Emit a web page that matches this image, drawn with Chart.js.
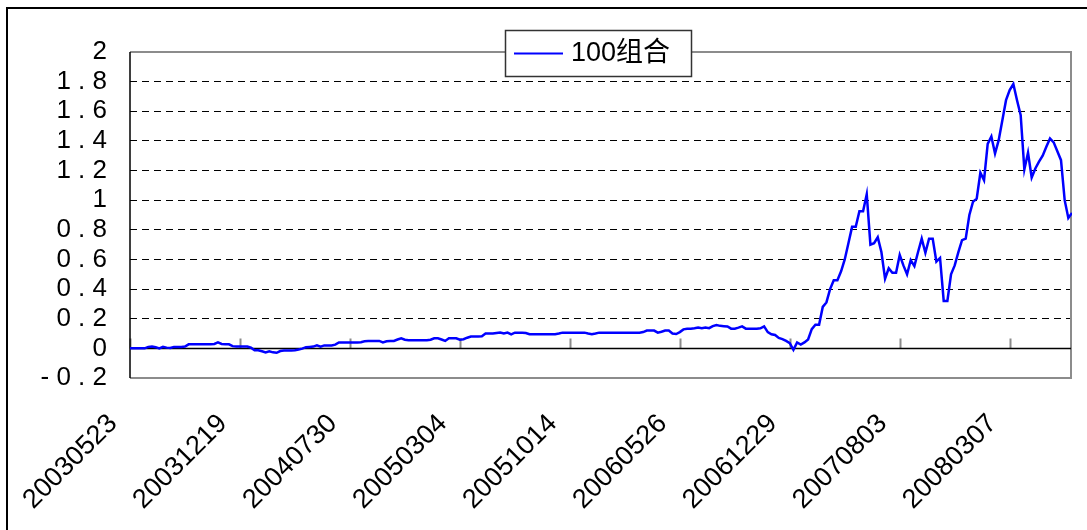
<!DOCTYPE html>
<html>
<head>
<meta charset="utf-8">
<script src="https://cdn.jsdelivr.net/npm/chart.js@4.4.1/dist/chart.umd.min.js"></script>
<style>
  body { margin: 0; background: #fff; }
  #frame { position: absolute; left: 6px; top: 7px; width: 1100px; height: 600px; border: 2px solid #000; }
  #c { position: absolute; left: 0; top: 0; }
</style>
</head>
<body>
<div id="frame"></div>
<canvas id="c" width="1072" height="530"></canvas>
<script>
// Weekly series
const seriesName = '100组合';
const tickLabels = ['20030523', '20031219', '20040730', '20050304', '20051014',
                    '20060526', '20061229', '20070803', '20080307'];
const tickEvery = 30; // one label every 30 weeks
const values = [
    0, 0, 0, 0, 0, 0.01, 0.013, 0.008, 0, 0.01,
    0.005, 0.003, 0.01, 0.01, 0.01, 0.012, 0.027, 0.027, 0.027, 0.027,
    0.027, 0.027, 0.027, 0.03, 0.04, 0.03, 0.027, 0.027, 0.015, 0.013,
    0.013, 0.013, 0.013, 0.005, -0.013, -0.013, -0.02, -0.027, -0.02, -0.027,
    -0.03, -0.018, -0.015, -0.015, -0.015, -0.013, -0.008, -0.002, 0.008, 0.01,
    0.012, 0.02, 0.012, 0.02, 0.02, 0.02, 0.025, 0.04, 0.04, 0.04,
    0.04, 0.04, 0.04, 0.042, 0.048, 0.05, 0.05, 0.05, 0.05, 0.04,
    0.048, 0.05, 0.05, 0.06, 0.068, 0.058, 0.055, 0.055, 0.055, 0.055,
    0.055, 0.055, 0.058, 0.068, 0.068, 0.06, 0.05, 0.068, 0.068, 0.068,
    0.058, 0.062, 0.072, 0.08, 0.08, 0.08, 0.082, 0.1, 0.1, 0.1,
    0.104, 0.107, 0.1, 0.107, 0.095, 0.106, 0.106, 0.106, 0.104, 0.095,
    0.095, 0.095, 0.095, 0.095, 0.095, 0.095, 0.095, 0.1, 0.106, 0.106,
    0.106, 0.106, 0.106, 0.106, 0.106, 0.1, 0.095, 0.1, 0.106, 0.106,
    0.106, 0.106, 0.106, 0.106, 0.106, 0.106, 0.106, 0.106, 0.106, 0.106,
    0.11, 0.12, 0.12, 0.12, 0.106, 0.112, 0.12, 0.12, 0.1, 0.097,
    0.11, 0.128, 0.133, 0.133, 0.136, 0.14, 0.136, 0.14, 0.136, 0.15,
    0.158, 0.152, 0.15, 0.148, 0.133, 0.133, 0.14, 0.148, 0.133, 0.133,
    0.133, 0.133, 0.135, 0.148, 0.11, 0.095, 0.09, 0.07, 0.062, 0.05,
    0.035, -0.01, 0.04, 0.025, 0.04, 0.06, 0.13, 0.16, 0.16, 0.28,
    0.31, 0.40, 0.46, 0.46, 0.52, 0.6, 0.71, 0.82, 0.82, 0.925,
    0.925, 1.04, 0.70, 0.71, 0.75, 0.65, 0.47, 0.54, 0.51, 0.51,
    0.63, 0.56, 0.50, 0.595, 0.555, 0.65, 0.74, 0.645, 0.74, 0.74,
    0.585, 0.61, 0.32, 0.32, 0.50, 0.56, 0.65, 0.73, 0.74, 0.90,
    0.99, 1.01, 1.185, 1.135, 1.38, 1.43, 1.315, 1.405, 1.54, 1.675,
    1.743, 1.784, 1.675, 1.574, 1.207, 1.32, 1.153, 1.214, 1.26, 1.30,
    1.36, 1.417, 1.39, 1.33, 1.27, 1.0, 0.88, 0.914
];

const FONT = "'Liberation Sans', Arial, 'Noto Sans CJK SC', sans-serif";

// y labels in the picture are letter spaced: "1 . 8"
function formatY(v) {
    const s = String(Math.round(v * 10) / 10);
    return s.split('').join(' ');
}

// plot frame, zero line, category ticks and the floating legend
const framePlugin = {
    id: 'framePlugin',
    beforeDatasetsDraw(chart) {
        const { ctx, chartArea: a, scales: { x, y } } = chart;
        const y0 = Math.round(y.getPixelForValue(0)) + 0.5;
        const right = Math.min(a.right, chart.width - 1);
        ctx.save();
        ctx.strokeStyle = '#8c8c8c';
        ctx.lineWidth = 2;
        ctx.beginPath();
        ctx.moveTo(a.left, a.top);
        ctx.lineTo(right, a.top);
        ctx.lineTo(right, a.bottom);
        ctx.lineTo(a.left, a.bottom);
        ctx.stroke();

        ctx.beginPath();
        tickLabels.forEach((_, i) => {
            const px = Math.round(x.getPixelForValue(i * tickEvery)) + 0.5;
            ctx.moveTo(px, y0 - 10);
            ctx.lineTo(px, y0);
        });
        ctx.stroke();

        ctx.strokeStyle = '#000';
        ctx.lineWidth = 1.5;
        ctx.beginPath();
        ctx.moveTo(a.left, y0);
        ctx.lineTo(right, y0);
        ctx.moveTo(a.left, a.top);
        ctx.lineTo(a.left, a.bottom);
        ctx.stroke();
        ctx.restore();
    },
    afterDraw(chart) {
        const ctx = chart.ctx;
        const ds = chart.data.datasets[0];
        ctx.save();
        ctx.fillStyle = '#fff';
        ctx.fillRect(505, 30, 186, 46);
        ctx.strokeStyle = '#333';
        ctx.lineWidth = 1.5;
        ctx.strokeRect(505.5, 30.5, 186, 46);
        ctx.strokeStyle = ds.borderColor;
        ctx.lineWidth = 2;
        ctx.beginPath();
        ctx.moveTo(514, 53.5);
        ctx.lineTo(563, 53.5);
        ctx.stroke();
        ctx.fillStyle = '#000';
        ctx.font = '27px ' + FONT;
        ctx.textBaseline = 'middle';
        ctx.fillText(ds.label, 571, 54);
        ctx.restore();
    }
};

new Chart(document.getElementById('c'), {
    type: 'line',
    data: {
        datasets: [{
            label: seriesName,
            data: values.map((v, i) => ({ x: i, y: v })),
            borderColor: '#0000ff',
            borderWidth: 2.5,
            pointRadius: 0,
            tension: 0,
            fill: false
        }]
    },
    options: {
        responsive: false,
        animation: false,
        devicePixelRatio: 1,
        layout: { padding: { left: 6, top: 52, right: 0, bottom: 0 } },
        plugins: {
            legend: { display: false },
            tooltip: { enabled: false }
        },
        scales: {
            x: {
                type: 'linear',
                min: 0,
                max: values.length - 1,
                afterFit(scale) {
                    scale.height = 152;
                    scale.paddingLeft = 0;
                    scale.paddingRight = 0;
                },
                grid: { display: false },
                border: { display: false },
                ticks: {
                    stepSize: tickEvery,
                    autoSkip: false,
                    minRotation: 45,
                    maxRotation: 45,
                    padding: 22,
                    labelOffset: -17,
                    color: '#000',
                    font: { family: FONT, size: 27 },
                    callback: v => tickLabels[v / tickEvery] ?? ''
                }
            },
            y: {
                min: -0.2,
                max: 2,
                afterFit(scale) {
                    scale.width = 124;
                    scale.paddingTop = 0;
                    scale.paddingBottom = 0;
                },
                border: { display: false, dash: [7, 5] },
                grid: {
                    drawTicks: false,
                    lineWidth: 1,
                    color: c => {
                        const v = Math.round(c.tick.value * 10);
                        return (v === -2 || v === 0 || v === 20) ? 'rgba(0,0,0,0)' : '#000';
                    }
                },
                ticks: {
                    stepSize: 0.2,
                    autoSkip: false,
                    padding: 23,
                    color: '#000',
                    font: { family: FONT, size: 26 },
                    callback: formatY
                }
            }
        }
    },
    plugins: [framePlugin]
});
</script>
</body>
</html>
